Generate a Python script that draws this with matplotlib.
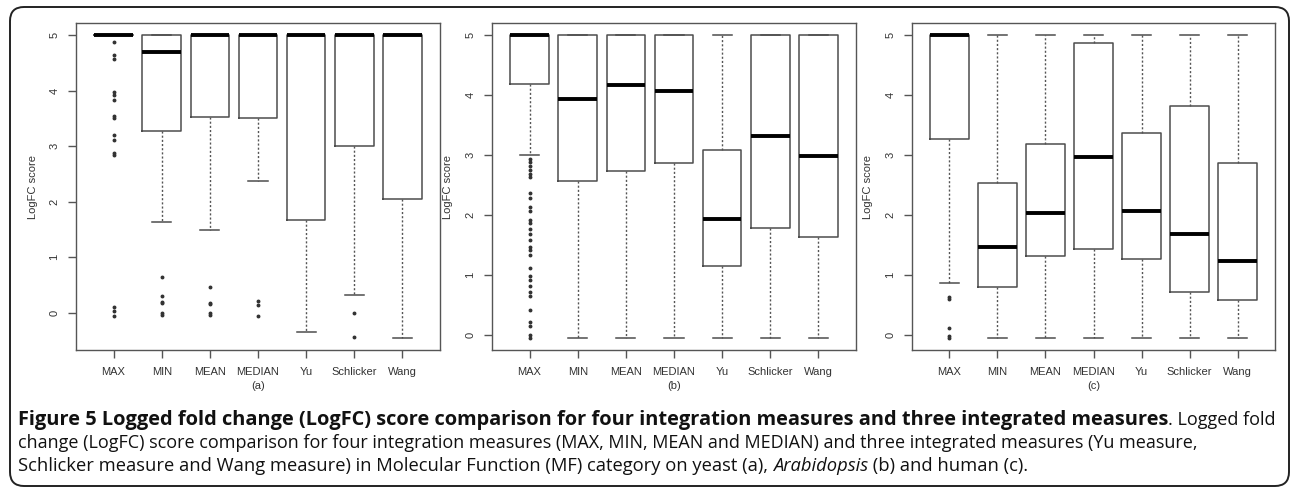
import matplotlib.pyplot as plt
from matplotlib.patches import FancyBboxPatch
from matplotlib.transforms import IdentityTransform

measures = ['MAX', 'MIN', 'MEAN', 'MEDIAN', 'Yu', 'Schlicker', 'Wang']
panel_tags = ['(a)', '(b)', '(c)']

# yeast (a)
yeast_q1 = [5.0, 3.28, 3.52, 3.50, 1.68, 3.00, 2.05]
yeast_med = [5.0, 4.70, 5.0, 5.0, 5.0, 5.0, 5.0]
yeast_q3 = [5.0, 5.0, 5.0, 5.0, 5.0, 5.0, 5.0]
yeast_lo = [5.0, 1.63, 1.49, 2.38, -0.35, 0.33, -0.45]
yeast_hi = [5.0, 5.0, 5.0, 5.0, 5.0, 5.0, 5.0]
yeast_out = [
    [4.87, 4.65, 4.57, 3.98, 3.93, 3.83, 3.55, 3.51, 3.20, 3.12, 2.88, 2.85,
     0.11, 0.03, -0.05],
    [0.64, 0.30, 0.20, 0.18, 0.0, -0.04],
    [0.46, 0.18, 0.16, 0.0, -0.04],
    [0.21, 0.14, -0.05],
    [],
    [-0.01, -0.43],
    [],
]

# Arabidopsis (b)
arab_q1 = [4.19, 2.56, 2.74, 2.87, 1.15, 1.79, 1.63]
arab_med = [5.0, 3.93, 4.17, 4.07, 1.94, 3.31, 2.98]
arab_q3 = [5.0, 5.0, 5.0, 5.0, 3.09, 5.0, 5.0]
arab_lo = [3.0, -0.05, -0.05, -0.05, -0.05, -0.05, -0.05]
arab_hi = [5.0, 5.0, 5.0, 5.0, 5.0, 5.0, 5.0]
arab_out = [
    [2.94, 2.89, 2.81, 2.75, 2.69, 2.64, 2.36, 2.28, 2.14, 2.06, 1.92, 1.86,
     1.76, 1.69, 1.58, 1.47, 1.42, 1.33, 1.11, 0.98, 0.92, 0.82, 0.72, 0.65,
     0.41, 0.22, 0.14, 0.0, -0.05],
    [], [], [], [], [], [],
]

# human (c)
human_q1 = [3.26, 0.80, 1.31, 1.44, 1.26, 0.72, 0.58]
human_med = [5.0, 1.47, 2.04, 2.97, 2.07, 1.68, 1.23]
human_q3 = [5.0, 2.53, 3.18, 4.87, 3.36, 3.81, 2.86]
human_lo = [0.86, -0.05, -0.05, -0.05, -0.05, -0.05, -0.05]
human_hi = [5.0, 5.0, 5.0, 5.0, 5.0, 5.0, 5.0]
human_out = [
    [0.64, 0.60, 0.12, -0.02, -0.05],
    [], [], [], [], [], [],
]

panels = [
    (yeast_q1, yeast_med, yeast_q3, yeast_lo, yeast_hi, yeast_out),
    (arab_q1, arab_med, arab_q3, arab_lo, arab_hi, arab_out),
    (human_q1, human_med, human_q3, human_lo, human_hi, human_out),
]

W, H = 1292, 488
fig = plt.figure(figsize=(W / 100, H / 100), dpi=100)
fig.patch.set_facecolor('white')

# axes boxes in pixels: left, right, top, bottom
ax_px = [(76, 440, 23, 350), (492, 856, 23, 350), (912, 1275, 23, 350)]
ylab_x = [33, 448, 868]

frame_col = '#555555'
tick_font = 'Liberation Sans'

for i, (q1, med, q3, lo, hi, out) in enumerate(panels):
    l, r, t, b = ax_px[i]
    ax = fig.add_axes([l / W, 1 - b / H, (r - l) / W, (b - t) / H])
    stats = []
    for k in range(len(measures)):
        stats.append(dict(q1=q1[k], med=med[k], q3=q3[k], whislo=lo[k],
                          whishi=hi[k], fliers=out[k]))
    ax.bxp(stats, positions=range(1, 8), widths=0.8, capwidths=0.4,
           manage_ticks=False,
           boxprops=dict(color='#4d4d4d', linewidth=1.1),
           medianprops=dict(color='black', linewidth=2.8, solid_capstyle='butt'),
           whiskerprops=dict(color='#555555', linewidth=1.0,
                             linestyle=(0, (1.5, 1.5))),
           capprops=dict(color='#4d4d4d', linewidth=1.1),
           flierprops=dict(marker='o', markersize=1.8, markerfacecolor='#333333',
                           markeredgecolor='#333333', linestyle='none'))

    # R-style 4% padding around the data range
    ymin = min(min(lo), min(min(o) if o else 9 for o in out))
    ymax = max(hi)
    pad = 0.04 * (ymax - ymin)
    ax.set_ylim(ymin - pad, ymax + pad)
    ax.set_xlim(0.5 - 0.28, 7.5 + 0.28)

    for s in ax.spines.values():
        s.set_color(frame_col)
        s.set_linewidth(1.0)
    ax.set_xticks(range(1, 8))
    ax.set_xticklabels(measures, fontfamily=tick_font, fontsize=8, color='#333333')
    ax.set_yticks(range(0, 6))
    ax.set_yticklabels([str(v) for v in range(0, 6)], rotation=90, va='center',
                       fontfamily=tick_font, fontsize=8, color='#333333')
    ax.tick_params(direction='out', length=6, width=1.0, color=frame_col)
    ax.tick_params(axis='x', pad=6)
    ax.tick_params(axis='y', pad=6)
    ax.set_xlabel(panel_tags[i], fontfamily=tick_font, fontsize=8,
                  color='#333333', labelpad=3)
    fig.text(ylab_x[i] / W, 1 - 187 / H, 'LogFC score', rotation=90,
             ha='center', va='center', fontfamily=tick_font, fontsize=8,
             color='#333333')

# rounded outline around the whole figure
outline = FancyBboxPatch((10, 2), 1279, 479, boxstyle='round,pad=0,rounding_size=14',
                         transform=IdentityTransform(), facecolor='none',
                         edgecolor='#222222', linewidth=1.4)
fig.patches.append(outline)

# caption, with bold / regular / italic runs placed one after another
cap_font = 'Open Sans'
renderer = fig.canvas.get_renderer()


def caption_line(y_px, runs, x_px=18):
    x = x_px
    for text, weight, style, size in runs:
        t = fig.text(x / W, 1 - y_px / H, text, fontfamily=cap_font,
                     fontsize=size, fontweight=weight, fontstyle=style,
                     color='#111111', ha='left', va='baseline')
        x = t.get_window_extent(renderer).x1


caption_line(425, [
    ('Figure 5 Logged fold change (LogFC) score comparison for four integration '
     'measures and three integrated measures', 'bold', 'normal', 14.4),
    ('. Logged fold', 'normal', 'normal', 13.0),
])
caption_line(448, [
    ('change (LogFC) score comparison for four integration measures (MAX, MIN, MEAN '
     'and MEDIAN) and three integrated measures (Yu measure,', 'normal', 'normal', 13.0),
])
caption_line(471, [
    ('Schlicker measure and Wang measure) in Molecular Function (MF) category on '
     'yeast (a), ', 'normal', 'normal', 13.2),
    ('Arabidopsis', 'normal', 'italic', 13.2),
    (' (b) and human (c).', 'normal', 'normal', 13.2),
])

fig.savefig('out.png', dpi=100)
